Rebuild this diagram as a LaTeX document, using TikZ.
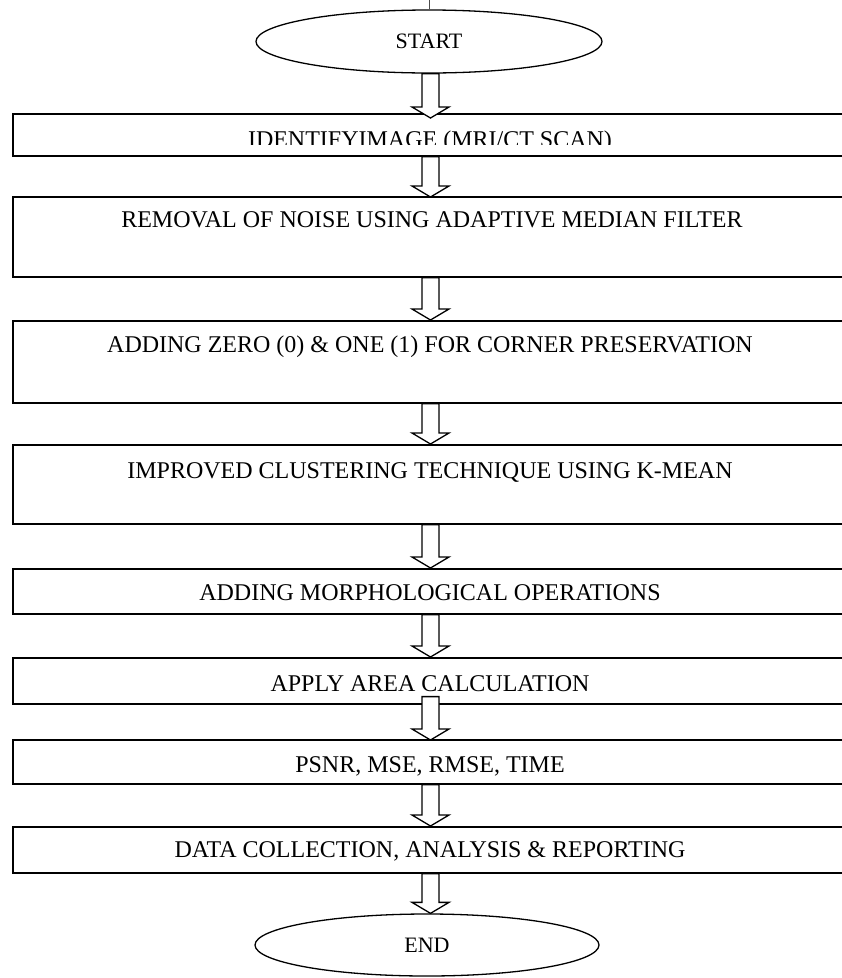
\documentclass[tikz,border=0pt]{standalone}
\usepackage{fontspec}
\setmainfont{Liberation Serif}
\usetikzlibrary{shapes.geometric,calc}
\tikzset{
  stepbox/.style={draw,line width=1.6pt,rectangle,anchor=north west,inner sep=0pt,minimum width=848pt},
  term/.style={draw,ellipse,line width=1.3pt,inner sep=0pt,font=\fontsize{22}{26}\selectfont},
  lbl/.style={anchor=base,inner sep=0pt,font=\fontsize{24}{28}\selectfont},
  blk/.style={draw,fill=white,line width=1.3pt,line join=miter},
}
\newcommand{\blockarrow}[2]{%
  \draw[blk] let \p1=(#1), \p2=(#2) in
    (\x2-8.5pt,\y1) -- (\x2+8.5pt,\y1) -- (\x2+8.5pt,\y2+11pt) -- (\x2+18.5pt,\y2+11pt)
    -- (\x2,\y2) -- (\x2-18.5pt,\y2+11pt) -- (\x2-8.5pt,\y2+11pt) -- cycle;}
\begin{document}
\begin{tikzpicture}[x=1pt,y=-1pt]
\useasboundingbox (0,0) rectangle (842,978);
\clip (0,0) rectangle (842,978);
\coordinate (ax) at (430.5,0);
% terminals
\node[term,minimum width=346pt,minimum height=63pt] (start) at (429,41.5) {START};
\node[term,minimum width=344pt,minimum height=62pt] (end) at (427,945) {END};
\draw[line width=0.6pt,black!70] (start.north) -- (start.north |- 0,0);
% boxes
\node[stepbox,minimum height=42pt] (b1) at (12,113) {};
\node[stepbox,minimum height=80pt] (b2) at (12,196) {};
\node[stepbox,minimum height=82pt] (b3) at (12,320) {};
\node[stepbox,minimum height=79pt] (b4) at (12,444) {};
\node[stepbox,minimum height=45pt] (b5) at (12,568) {};
\node[stepbox,minimum height=46pt] (b6) at (12,657) {};
\node[stepbox,minimum height=44pt] (b7) at (12,739) {};
\node[stepbox,minimum height=46pt] (b8) at (12,826) {};
% texts
\begin{scope}
\clip (12,113) rectangle (860,144);
\node[lbl] (t1) at (430,147) {IDENTIFYIMAGE (MRI/CT SCAN)};
\end{scope}
\node[lbl] (t2) at (432,227) {REMOVAL OF NOISE USING ADAPTIVE MEDIAN FILTER};
\node[lbl] (t3) at (430,352) {ADDING ZERO (0) \& ONE (1) FOR CORNER PRESERVATION};
\node[lbl] (t4) at (430,478) {IMPROVED CLUSTERING TECHNIQUE USING K-MEAN};
\node[lbl] (t5) at (430,600.5) {ADDING MORPHOLOGICAL OPERATIONS};
\node[lbl] (t6) at (430,691) {APPLY AREA CALCULATION};
\node[lbl] (t7) at (430,772) {PSNR, MSE, RMSE, TIME};
\node[lbl] (t8) at (430,857) {DATA COLLECTION, ANALYSIS \& REPORTING};
% arrows
\blockarrow{start.south -| ax}{$(b1.north -| ax)+(0,5)$}
\blockarrow{b1.south -| ax}{$(b2.north -| ax)+(0,1)$}
\blockarrow{b2.south -| ax}{b3.north -| ax}
\blockarrow{b3.south -| ax}{b4.north -| ax}
\blockarrow{b4.south -| ax}{b5.north -| ax}
\blockarrow{b5.south -| ax}{b6.north -| ax}
\blockarrow{$(b6.south -| ax)+(0,-8)$}{$(b7.north -| ax)+(0,1)$}
\blockarrow{b7.south -| ax}{b8.north -| ax}
\blockarrow{b8.south -| ax}{end.north -| ax}
\end{tikzpicture}
\end{document}
